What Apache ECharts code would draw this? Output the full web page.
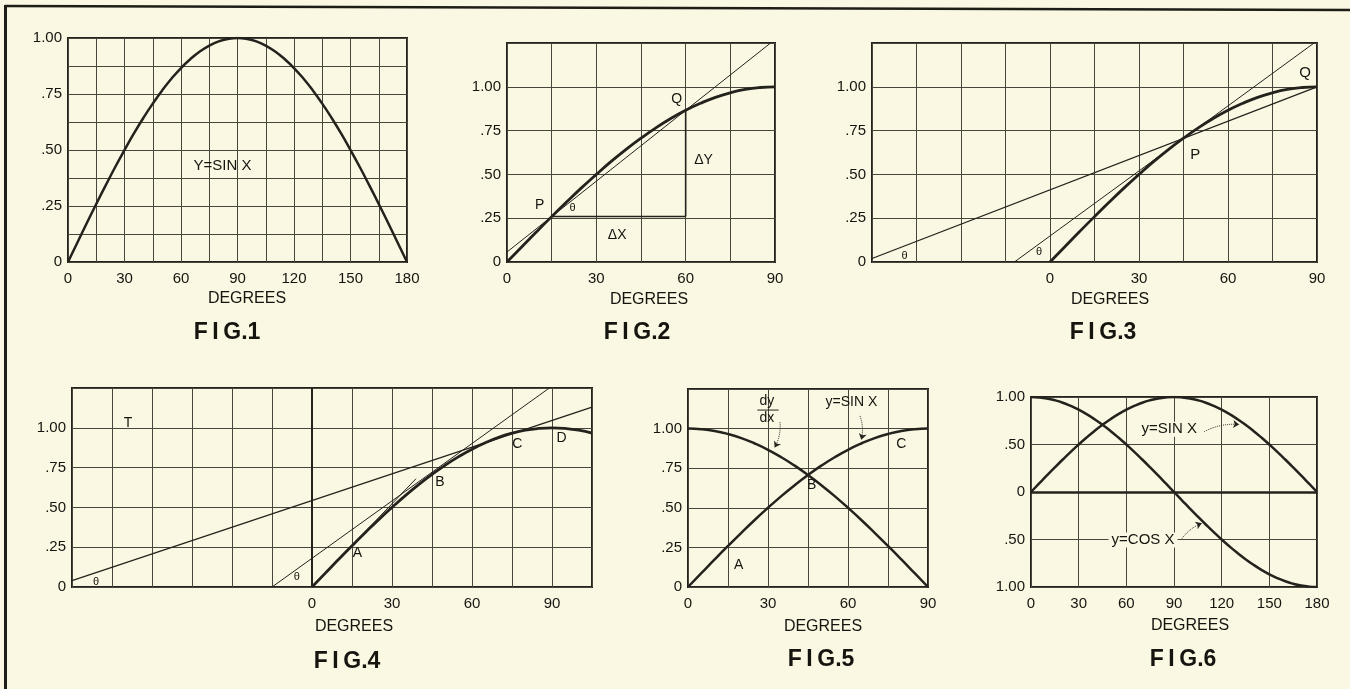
<!DOCTYPE html>
<html><head><meta charset="utf-8">
<script src="https://cdn.jsdelivr.net/npm/echarts@6/dist/echarts.min.js"></script>
<style>html,body{margin:0;padding:0;background:#faf7e2}#c{width:1350px;height:689px}</style>
</head><body><div id="c"></div>
<script>
// ---------------- data ----------------
const degA = [0,5,10,15,20,25,30,35,40,45,50,55,60,65,70,75,80,85,90,95,100,105,110,115,120,125,130,135,140,145,150,155,160,165,170,175,180];
const sinA = [0,.087,.174,.259,.342,.423,.5,.574,.643,.707,.766,.819,.866,.906,.94,.966,.985,.996,1,.996,.985,.966,.94,.906,.866,.819,.766,.707,.643,.574,.5,.423,.342,.259,.174,.087,0];
const cosA = [1,.996,.985,.966,.94,.906,.866,.819,.766,.707,.643,.574,.5,.423,.342,.259,.174,.087,0,-.087,-.174,-.259,-.342,-.423,-.5,-.574,-.643,-.707,-.766,-.819,-.866,-.906,-.94,-.966,-.985,-.996,-1];

const xTickVals = [0,30,60,90,120,150,180];
const xTickLabels = ['0','30','60','90','120','150','180'];
const yTickVals = [0,0.25,0.5,0.75,1];
const yTickLabels = ['0','.25','.50','.75','1.00'];
const y6TickVals = [-1,-0.5,0,0.5,1];
const y6TickLabels = ['1.00','.50','0','.50','1.00'];

// straight construction lines [x,y] pairs
const fig2Secant = [[0,0.057],[90,1.27]];
const fig2DeltaX = [[15,0.26],[60,0.26]];
const fig2DeltaY = [[60,0.26],[60,0.866]];
const fig3Secant = [[-60,0.02],[90,1.0]];
const fig3Tangent = [[-12,0],[89,1.25]];
const fig4LineT = [[-90,0.04],[105,1.13]];
const fig4LineB = [[-15,0],[89,1.25]];
const fig4LineA = [[0,0],[39,0.68]];
const fig5FracBar = [[26,1.117],[34,1.117]];

// annotations [x, y, text]
const fig1Notes = [[82,0.43,'Y=SIN X']];
const fig2Notes = [[11,0.325,'P'],[22,0.306,'θ'],[57,0.93,'Q'],[66,0.58,'ΔY'],[37,0.154,'ΔX']];
const fig3Notes = [[86,1.08,'Q'],[49,0.61,'P'],[-49,0.034,'θ'],[-3.7,0.055,'θ']];
const fig4Notes = [[-69,1.03,'T'],[-81,0.03,'θ'],[-5.7,0.06,'θ'],[17,0.21,'A'],[48,0.66,'B'],[77,0.895,'C'],[93.6,0.937,'D']];
const fig5Notes = [[19,0.14,'A'],[46.4,0.64,'B'],[80,0.9,'C'],[61.3,1.17,'y=SIN X'],[29.6,1.175,'dy'],[29.6,1.065,'dx']];
const fig6Notes = [[87,0.66,'y=SIN X'],[70.5,-0.505,'y=COS X']];

// dotted arrows
const fig5Arrows = [[[34.5,1.04],[32.5,0.88]],[[64.5,1.08],[65,0.93]]];
const fig6Arrows = [[[109,0.635],[131,0.71]],[[95,-0.49],[107.5,-0.33]]];

// ---------------- style / layout ----------------
const INK = '#24221d', TXT = '#15140f', GRIDC = '#47453c', BG = '#faf7e2', FONT = '"Liberation Sans", Arial, sans-serif';
const grids = [
  {left:68, top:38, width:339, height:224},
  {left:507, top:43, width:268, height:219},
  {left:872, top:43, width:445, height:219},
  {left:72, top:388, width:520, height:199},
  {left:688, top:389, width:240, height:198},
  {left:1031, top:397, width:286, height:190}
];
const xSpec = [[0,180,15],[0,90,15],[-60,90,15],[-90,105,15],[0,90,15],[0,180,30]];
const ySpec = [[0,1,0.125],[0,1.25,0.25],[0,1.25,0.25],[0,1.25,0.25],[0,1.25,0.25],[-1,1,0.5]];

function lookup(vals, labels){
  return v => { const i = vals.findIndex(t => Math.abs(t - v) < 1e-9); return i >= 0 ? labels[i] : ''; };
}

const xAxis = xSpec.map((s,i) => ({
  type:'value', gridIndex:i, min:s[0], max:s[1], interval:s[2],
  axisLine:{show:false}, axisTick:{show:false},
  splitLine:{show:true, lineStyle:{color:GRIDC, width:1}},
  axisLabel:{show:true, showMinLabel:true, showMaxLabel:true, margin:9, fontFamily:FONT, fontSize:15, color:TXT,
             formatter: lookup(xTickVals, xTickLabels)}
}));
const yAxis = ySpec.map((s,i) => ({
  type:'value', gridIndex:i, min:s[0], max:s[1], interval:s[2],
  axisLine:{show:false}, axisTick:{show:false},
  splitLine:{show:true, lineStyle:{color:GRIDC, width:1}},
  axisLabel:{show:true, showMinLabel:true, showMaxLabel:true, margin:6, fontFamily:FONT, fontSize:15, color:TXT,
             formatter: i === 5 ? lookup(y6TickVals, y6TickLabels) : lookup(yTickVals, yTickLabels)}
}));

const series = [];
function curve(g, ys, n, width, extra){
  const data = ys.slice(0,n).map((y,k) => [degA[k], y]);
  series.push(Object.assign({type:'line', xAxisIndex:g, yAxisIndex:g, data, smooth:true, symbol:'none', silent:true,
    lineStyle:{color:INK, width:width}, z:5}, extra||{}));
}
function seg(g, pts, width){
  series.push({type:'line', xAxisIndex:g, yAxisIndex:g, data:pts, symbol:'none', silent:true, clip:true,
    lineStyle:{color:INK, width:width}, z:4});
}
function notes(g, arr, size, bg){
  series.push({type:'scatter', xAxisIndex:g, yAxisIndex:g, symbolSize:1, silent:true, z:6,
    itemStyle:{color:'rgba(0,0,0,0)'},
    data: arr.map(a => {
      const lab = {fontSize: a[2] === 'θ' ? 11 : size, color:TXT, textBorderWidth:0};
      if (bg) { lab.backgroundColor = BG; lab.padding = [0,3]; }
      return {value:[a[0],a[1]], name:a[2], label:lab};
    }),
    label:{show:true, position:'inside', formatter:'{b}', fontFamily:FONT, color:TXT, fontSize:size,
           textBorderWidth:0, textBorderColor:'transparent', opacity:1}
  });
}
function arrows(g, arr){
  series.push({type:'lines', coordinateSystem:'cartesian2d', xAxisIndex:g, yAxisIndex:g, silent:true, z:6,
    symbol:['none','arrow'], symbolSize:6,
    lineStyle:{color:INK, width:1, type:'dotted', curveness:0.15, opacity:1},
    data: arr.map(c => ({coords:c}))});
}

// Fig 1
curve(0, sinA, 37, 2.5);
notes(0, fig1Notes, 15);
// Fig 2
curve(1, sinA, 19, 2.8);
seg(1, fig2Secant, 1);
seg(1, fig2DeltaX, 1.6);
seg(1, fig2DeltaY, 1.6);
notes(1, fig2Notes, 14);
// Fig 3
curve(2, sinA, 19, 2.8);
seg(2, fig3Secant, 1.3);
seg(2, fig3Tangent, 1);
notes(2, fig3Notes, 15);
// Fig 4
curve(3, sinA, 22, 2.8, {markLine:{silent:true, symbol:'none', label:{show:false}, lineStyle:{color:INK, width:2, type:'solid'}, data:[{xAxis:0}]}});
seg(3, fig4LineT, 1.3);
seg(3, fig4LineB, 1);
seg(3, fig4LineA, 1);
notes(3, fig4Notes, 14);
// Fig 5
curve(4, sinA, 19, 2.5);
curve(4, cosA, 19, 2.5);
seg(4, fig5FracBar, 1);
notes(4, fig5Notes, 14);
arrows(4, fig5Arrows);
// Fig 6
curve(5, sinA, 37, 2.5, {markLine:{silent:true, symbol:'none', label:{show:false}, lineStyle:{color:INK, width:2.5, type:'solid'}, data:[{yAxis:0}]}});
curve(5, cosA, 37, 2.5);
notes(5, fig6Notes, 15, true);
arrows(5, fig6Arrows);

// captions
const captions = [
  ['DEGREES',247,299,16],['FIG.1',227,333,23],
  ['DEGREES',649,300,16],['FIG.2',637,333,23],
  ['DEGREES',1110,300,16],['FIG.3',1103,333,23],
  ['DEGREES',354,627,16],['FIG.4',347,662,23],
  ['DEGREES',823,627,16],['FIG.5',821,660,23],
  ['DEGREES',1190,626,16],['FIG.6',1183,660,23]
];
const graphic = captions.map(c => ({type:'text', x:c[1], y:c[2], silent:true,
  style:{text: c[3] > 20 ? c[0].replace('FIG', 'F\u2009I\u2009G') : c[0], fill:TXT,
         font: (c[3] > 20 ? 'bold ' : '') + c[3] + 'px ' + FONT, align:'center', verticalAlign:'middle'}}));
graphic.push({type:'polyline', silent:true, shape:{points:[[5,6],[1350,10]]}, style:{stroke:'#1f1d18', lineWidth:2.5}});
graphic.push({type:'line', silent:true, shape:{x1:5.5,y1:5,x2:5.5,y2:689}, style:{stroke:'#1f1d18', lineWidth:3}});

const option = {
  animation:false,
  backgroundColor:BG,
  grid: grids.map(g => Object.assign({show:true, borderColor:INK, borderWidth:2, backgroundColor:'transparent', containLabel:false, outerBoundsMode:'none'}, g)),
  xAxis, yAxis, series, graphic
};
const chart = echarts.init(document.getElementById('c'), null, {renderer:'canvas', width:1350, height:689});
chart.setOption(option);
</script></body></html>
